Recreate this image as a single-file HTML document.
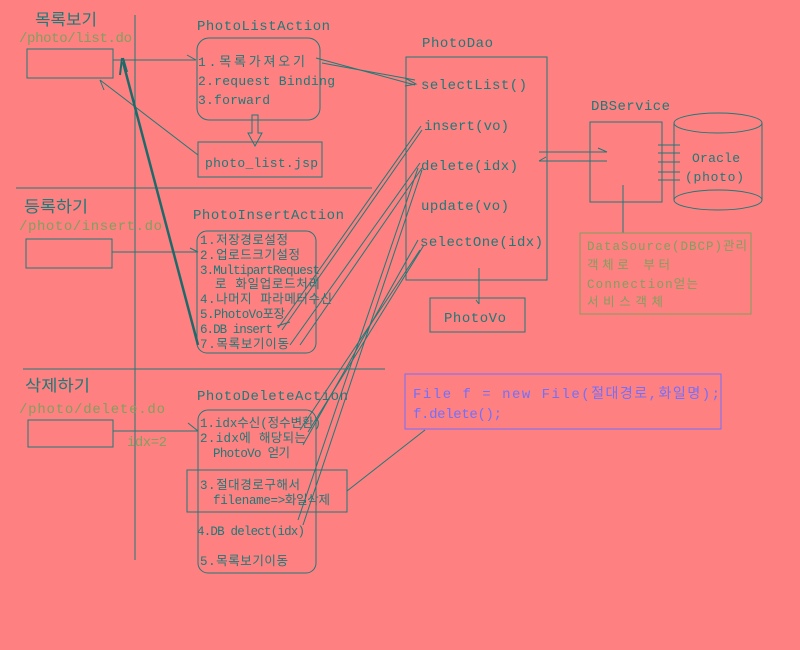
<!DOCTYPE html>
<html><head><meta charset="utf-8"><style>
body{margin:0;background:#ff8080;}
svg{display:block}
text{font-family:"Liberation Mono","Noto Sans CJK KR",monospace;fill:#1e7a78;}
.g{fill:#7fa060}
.b{fill:#7070ff}
</style></head><body>
<svg width="800" height="650" viewBox="0 0 800 650" xmlns="http://www.w3.org/2000/svg">
<rect width="800" height="650" fill="#ff8080"/>
<g stroke="#1e7a78" fill="none" stroke-width="1">
<line x1="135" y1="15" x2="135" y2="560"/>
<line x1="16" y1="188" x2="372" y2="188"/>
<line x1="23" y1="369" x2="385" y2="369"/>
<rect x="27" y="49" width="86" height="29"/>
<rect x="26" y="239" width="86" height="29"/>
<rect x="28" y="420" width="85" height="27"/>
<rect x="197" y="38" width="123" height="82" rx="12"/>
<rect x="198" y="142" width="124" height="35"/>
<rect x="197" y="231" width="119" height="122" rx="10"/>
<rect x="198" y="410" width="118" height="163" rx="10"/>
<rect x="187" y="470" width="160" height="42"/>
<rect x="406" y="57" width="141" height="223"/>
<rect x="430" y="298" width="95" height="34"/>
<rect x="590" y="122" width="72" height="80"/>
<line x1="674" y1="123" x2="674" y2="200"/><line x1="762" y1="123" x2="762" y2="200"/>
<ellipse cx="718" cy="123" rx="44" ry="10" fill="#ff8080"/>
<ellipse cx="718" cy="200" rx="44" ry="10" fill="#ff8080"/>
<line x1="658" y1="145" x2="680" y2="145"/><line x1="658" y1="153" x2="680" y2="153"/><line x1="658" y1="162" x2="680" y2="162"/><line x1="658" y1="172" x2="680" y2="172"/><line x1="658" y1="180" x2="680" y2="180"/>
<line x1="113" y1="60" x2="196" y2="60"/><path d="M187 55 L196 60"/>
<line x1="112" y1="252" x2="198" y2="252"/><path d="M190 248 L198 252"/>
<line x1="113" y1="431" x2="198" y2="431"/><path d="M188 423 L198 431"/>
<line x1="198" y1="155" x2="100" y2="80"/><path d="M100 80 L104 90"/>
<path d="M252 115 L252 133 L248 133 L255 146 L262 133 L258 133 L258 115 Z"/>
<line x1="316" y1="58" x2="415" y2="85"/><line x1="322" y1="63" x2="415" y2="80"/><path d="M405 78 L416 84 L405 86"/>
<line x1="539" y1="152" x2="607" y2="152"/><path d="M598 148 L607 152"/>
<line x1="539" y1="161" x2="607" y2="161"/><path d="M546 157 L539 161"/>
<line x1="623" y1="185" x2="623" y2="233"/>
<line x1="479" y1="268" x2="479" y2="304"/><path d="M476 300 L479 304"/>
<line x1="347" y1="491" x2="425" y2="430"/>
<line x1="278" y1="328" x2="421" y2="126"/><line x1="282" y1="330" x2="422" y2="130"/><path d="M277 326 L290 322"/>
<line x1="290" y1="345" x2="420" y2="163"/><line x1="300" y1="345" x2="422" y2="168"/>
<line x1="300" y1="430" x2="420" y2="250"/><line x1="308" y1="432" x2="424" y2="245"/>
<line x1="303" y1="445" x2="418" y2="240"/>
<line x1="303" y1="525" x2="422" y2="170"/><line x1="298" y1="520" x2="418" y2="168"/>
</g>
<line x1="123" y1="62" x2="198" y2="345" stroke="#1e6a6a" stroke-width="2.5"/>
<path d="M122 58 L120 75 M123 58 L127 72" stroke="#1e6a6a" stroke-width="2" fill="none"/>
<rect x="580" y="233" width="171" height="81" fill="none" stroke="#7fa060"/>
<rect x="405" y="374" width="316" height="55" fill="none" stroke="#7070ff"/>
<g font-size="14" lengthAdjust="spacingAndGlyphs">
<text x="35" y="25" font-size="16" textLength="62" lengthAdjust="spacingAndGlyphs">목록보기</text>
<text x="24" y="212" font-size="16" textLength="64" lengthAdjust="spacingAndGlyphs">등록하기</text>
<text x="25" y="391" font-size="16" textLength="65" lengthAdjust="spacingAndGlyphs">삭제하기</text>
<text class="g" x="19" y="42" textLength="113">/photo/list.do</text>
<text class="g" x="19" y="230" textLength="143">/photo/insert.do</text>
<text class="g" x="19" y="413" textLength="146">/photo/delete.do</text>
<text class="g" x="127" y="446" textLength="40">idx=2</text>
<text x="197" y="30" textLength="133">PhotoListAction</text>
<text x="193" y="219" textLength="151">PhotoInsertAction</text>
<text x="197" y="400" textLength="151">PhotoDeleteAction</text>
<text x="422" y="47" textLength="71">PhotoDao</text>
<text x="591" y="110" textLength="79">DBService</text>
<text x="421" y="89" textLength="106">selectList()</text>
<text x="424" y="130" textLength="85">insert(vo)</text>
<text x="421" y="170" textLength="97">delete(idx)</text>
<text x="421" y="210" textLength="88">update(vo)</text>
<text x="420" y="246" textLength="123">selectOne(idx)</text>
<text x="444" y="322" textLength="62">PhotoVo</text>
<text x="413" y="398" class="b" textLength="307">File f = new File(절대경로,화일명);</text>
<text x="413" y="418" class="b" textLength="89">f.delete();</text>
</g>
<g font-size="13">
<text x="198" y="66" textLength="107">1.목록가져오기</text>
<text x="198" y="85" textLength="137">2.request Binding</text>
<text x="198" y="104" textLength="72">3.forward</text>
<text x="205" y="167" textLength="113">photo_list.jsp</text>
<text x="692" y="162" textLength="48">Oracle</text>
<text x="685" y="181" textLength="59">(photo)</text>
</g>
<g font-size="12.5">
<text x="200" y="244" textLength="88">1.저장경로설정</text>
<text x="200" y="259" textLength="100">2.업로드크기설정</text>
<text x="200" y="274" textLength="120">3.MultipartRequest</text>
<text x="215" y="288" textLength="105">로 화일업로드처리</text>
<text x="200" y="303" textLength="132">4.나머지 파라메터수신</text>
<text x="200" y="318" textLength="85">5.PhotoVo포장</text>
<text x="200" y="333" textLength="73">6.DB insert</text>
<text x="200" y="348" textLength="89">7.목록보기이동</text>
<text x="200" y="427" textLength="121">1.idx수신(정수변환)</text>
<text x="200" y="442" textLength="106">2.idx에 해당되는</text>
<text x="213" y="457" textLength="77">PhotoVo 얻기</text>
<text x="200" y="489" textLength="100">3.절대경로구해서</text>
<text x="213" y="504" textLength="117">filename=&gt;화일삭제</text>
<text x="197" y="535" textLength="108">4.DB delect(idx)</text>
<text x="200" y="565" textLength="88">5.목록보기이동</text>
<text class="g" x="587" y="250" textLength="160">DataSource(DBCP)관리</text>
<text class="g" x="587" y="269" textLength="83">객체로 부터</text>
<text class="g" x="587" y="288" textLength="111">Connection얻는</text>
<text class="g" x="587" y="306" textLength="76">서비스객체</text>
</g>
</svg>
</body></html>
